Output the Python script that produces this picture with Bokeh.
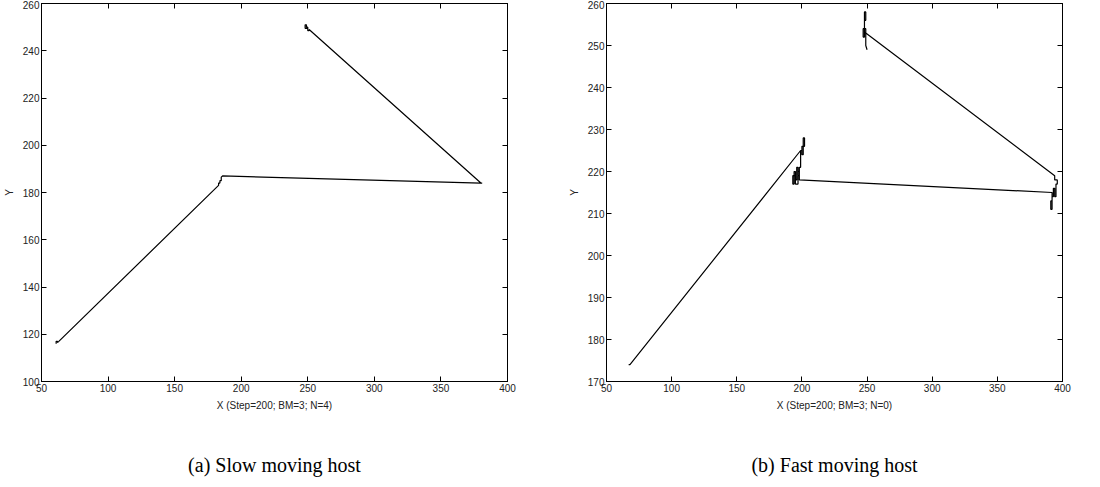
from bokeh.plotting import figure
from bokeh.layouts import row
from bokeh.models import Range1d, LinearAxis, FixedTicker, Title
from bokeh.embed import file_html
from bokeh.resources import INLINE

# ---- data: panel (a) slow moving host ----
xa = [61, 61, 62, 62, 63, 183, 183, 184, 184, 185, 185, 186, 380, 381, 380,
      251, 251, 250, 250, 249, 249, 248, 248, 249, 250, 250]
ya = [116, 117, 117, 116.5, 117, 183, 184, 184, 185, 185, 186.5, 187, 184, 184, 184,
      249, 248.5, 248.5, 250, 250, 251, 251, 249.5, 249.5, 249.5, 249]

# ---- data: panel (b) fast moving host ----
xb = [67, 68, 199, 200, 200, 201, 201, 202, 202, 201, 201, 200, 200, 199, 199, 198, 198,
      197, 197, 196, 196, 195, 195, 194, 194, 193, 193, 195, 195, 197, 197, 198, 198,
      392, 392, 391, 391, 392, 392, 393, 393, 394, 394, 395, 395, 396, 396, 394, 394,
      249, 249, 248, 248, 247, 247, 248, 248, 249, 249, 248, 248, 249, 249, 250]
yb = [174, 174, 225, 225, 224, 224, 226, 226, 228, 228, 226, 226, 225, 225, 221, 221, 219,
      219, 221, 221, 218, 218, 220, 220, 217, 217, 219, 219, 217, 217, 220, 220, 218,
      215, 213, 213, 211, 211, 214, 214, 216, 216, 214, 214, 217, 217, 218, 218, 219,
      253, 254, 254, 252, 252, 254, 254, 256, 256, 258, 258, 253, 253, 250, 249]

x_ticks = [50, 100, 150, 200, 250, 300, 350, 400]
ya_ticks = [100, 120, 140, 160, 180, 200, 220, 240, 260]
yb_ticks = [170, 180, 190, 200, 210, 220, 230, 240, 250, 260]

xlabel_a = "X (Step=200; BM=3; N=4)"
xlabel_b = "X (Step=200; BM=3; N=0)"
caption_a = "(a) Slow moving host"
caption_b = "(b) Fast moving host"

FONT = "Liberation Sans"
TXT = "#222222"


def style_axis(ax, ticks, show_labels):
    ax.ticker = FixedTicker(ticks=ticks)
    ax.major_tick_in = 5
    ax.major_tick_out = 0
    ax.minor_tick_line_color = None
    ax.axis_line_color = "black"
    ax.major_tick_line_color = "black"
    ax.major_label_text_font = FONT
    ax.major_label_text_font_size = "10px"
    ax.major_label_text_color = TXT
    ax.major_label_standoff = 2
    ax.axis_label_text_font = FONT
    ax.axis_label_text_font_size = "10px"
    ax.axis_label_text_font_style = "normal"
    ax.axis_label_text_color = TXT
    ax.axis_label_standoff = 5
    if not show_labels:
        ax.major_label_text_font_size = "0px"
        ax.major_label_text_alpha = 0


def make_panel(xs, ys, yr, yticks, xlabel, caption, fw, bl, br):
    p = figure(output_backend="svg", toolbar_location=None,
               frame_width=fw, frame_height=378,
               min_border_left=bl, min_border_right=br,
               min_border_top=3, min_border_bottom=0,
               x_range=Range1d(50, 400), y_range=Range1d(*yr),
               background_fill_color="white", border_fill_color="white")
    p.grid.visible = False
    p.outline_line_color = "black"
    p.outline_line_width = 1
    style_axis(p.xaxis[0], x_ticks, True)
    style_axis(p.yaxis[0], yticks, True)
    p.xaxis[0].axis_label = xlabel
    p.yaxis[0].axis_label = "Y"
    top = LinearAxis()
    style_axis(top, x_ticks, False)
    p.add_layout(top, "above")
    right = LinearAxis()
    style_axis(right, yticks, False)
    p.add_layout(right, "right")
    p.line(xs, ys, line_color="black", line_width=1.2)
    t = Title(text=caption, align="center", text_font="Liberation Serif",
              text_font_size="20px", text_font_style="normal",
              text_color="black", standoff=76, offset=-11)
    p.add_layout(t, "below")
    return p


p1 = make_panel(xa, ya, (100, 260), ya_ticks, xlabel_a, caption_a, 466, 36, 58)
p2 = make_panel(xb, yb, (170, 260), yb_ticks, xlabel_b, caption_b, 456, 33, 20)

layout = row(p1, p2, spacing=0)

with open("out.html", "w") as f:
    f.write(file_html(layout, INLINE))
